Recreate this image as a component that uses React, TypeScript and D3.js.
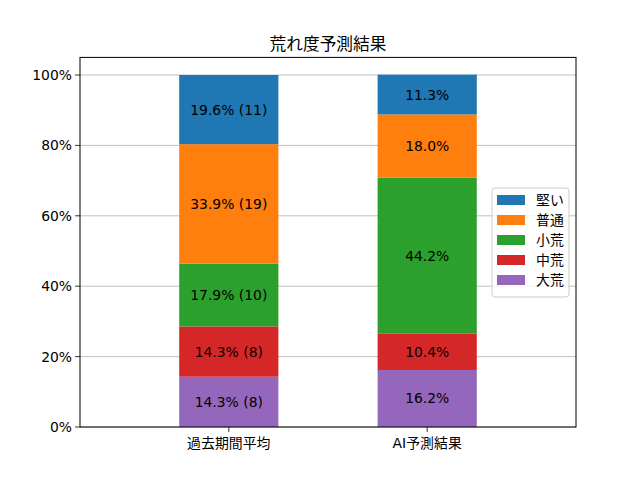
import * as d3 from 'd3';

const WIDTH = 640;
const HEIGHT = 480;
const MARGIN = { top: 57.4, right: 64, bottom: 53, left: 80 };

const CATEGORIES = ['過去期間平均', 'AI予測結果'];
const LEVELS = ['大荒', '中荒', '小荒', '普通', '堅い'];
const COLORS = ['#9467bd', '#d62728', '#2ca02c', '#ff7f0e', '#1f77b4'];
// past period: race counts per level
const PAST_COUNTS = [8, 8, 10, 19, 11];
// AI prediction: percent per level
const AI_PERCENTS = [16.2, 10.4, 44.2, 18.0, 11.3];
const Y_TICKS = [0, 0.2, 0.4, 0.6, 0.8, 1.0];

const FONT = "'DejaVu Sans', 'Noto Sans CJK JP', sans-serif";

export default function App() {
  const pastTotal = d3.sum(PAST_COUNTS);
  const rows = CATEGORIES.map((c, ci) => {
    const row: Record<string, number | string> = { name: c };
    LEVELS.forEach((lv, i) => {
      row[lv] = ci === 0 ? PAST_COUNTS[i] / pastTotal : AI_PERCENTS[i] / 100;
    });
    return row;
  });
  const labels = CATEGORIES.map((_, ci) =>
    LEVELS.map((_, i) =>
      ci === 0
        ? `${((PAST_COUNTS[i] / pastTotal) * 100).toFixed(1)}% (${PAST_COUNTS[i]})`
        : `${AI_PERCENTS[i].toFixed(1)}%`
    )
  );

  const series = d3.stack<any>().keys(LEVELS)(rows);

  const x = d3.scaleLinear().domain([-0.75, 1.75]).range([MARGIN.left, WIDTH - MARGIN.right]);
  const y = d3.scaleLinear().domain([0, 1.05]).range([HEIGHT - MARGIN.bottom, MARGIN.top]);
  const barW = x(0.5) - x(0);

  const legendX = 492;
  const legendY = 188;

  return (
    <svg width={WIDTH} height={HEIGHT} style={{ position: 'absolute', left: 0, top: 0, fontFamily: FONT }}>
      <rect width={WIDTH} height={HEIGHT} fill="#fff" />
      {/* grid */}
      {Y_TICKS.map((t) => (
        <line key={t} x1={x(-0.75)} x2={x(1.75)} y1={y(t)} y2={y(t)} stroke="#b0b0b0" strokeWidth={0.8} />
      ))}
      {/* bars */}
      {series.map((s, si) =>
        s.map((d, ci) => (
          <rect
            key={`${si}-${ci}`}
            x={x(ci) - barW / 2}
            width={barW}
            y={y(d[1])}
            height={y(d[0]) - y(d[1])}
            fill={COLORS[si]}
          />
        ))
      )}
      {series.map((s, si) =>
        s.map((d, ci) => (
          <text
            key={`t${si}-${ci}`}
            x={x(ci)}
            y={y((d[0] + d[1]) / 2)}
            textAnchor="middle"
            dominantBaseline="central"
            fontSize={13.9}
            fill="#000"
          >
            {labels[ci][si]}
          </text>
        ))
      )}
      {/* axes frame */}
      <rect
        x={MARGIN.left}
        y={MARGIN.top}
        width={WIDTH - MARGIN.left - MARGIN.right}
        height={HEIGHT - MARGIN.top - MARGIN.bottom}
        fill="none"
        stroke="#000"
        strokeWidth={1}
      />
      {Y_TICKS.map((t) => (
        <g key={`y${t}`}>
          <line x1={MARGIN.left - 4.9} x2={MARGIN.left} y1={y(t)} y2={y(t)} stroke="#000" strokeWidth={0.8} />
          <text x={MARGIN.left - 8} y={y(t)} textAnchor="end" dominantBaseline="central" fontSize={13.9}>
            {`${Math.round(t * 100)}%`}
          </text>
        </g>
      ))}
      {CATEGORIES.map((c, ci) => (
        <g key={c}>
          <line x1={x(ci)} x2={x(ci)} y1={y(0)} y2={y(0) + 4.9} stroke="#000" strokeWidth={0.8} />
          <text x={x(ci)} y={y(0) + 16} textAnchor="middle" dominantBaseline="central" fontSize={13.9}>
            {c}
          </text>
        </g>
      ))}
      <text x={(MARGIN.left + WIDTH - MARGIN.right) / 2} y={44} textAnchor="middle" dominantBaseline="central" fontSize={16.7}>
        荒れ度予測結果
      </text>
      {/* legend */}
      <rect x={legendX} y={legendY} width={77} height={109} rx={3} fill="#fff" fillOpacity={0.8} stroke="#ccc" />
      {LEVELS.map((lv, i) => ({ lv, i }))
        .reverse()
        .map(({ lv, i }, k) => (
          <g key={lv} transform={`translate(${legendX + 5},${legendY + 12 + k * 20})`}>
            <rect x={0} y={-5} width={28} height={10} fill={COLORS[i]} />
            <text x={39} y={0} dominantBaseline="central" fontSize={13.9}>
              {lv}
            </text>
          </g>
        ))}
    </svg>
  );
}
